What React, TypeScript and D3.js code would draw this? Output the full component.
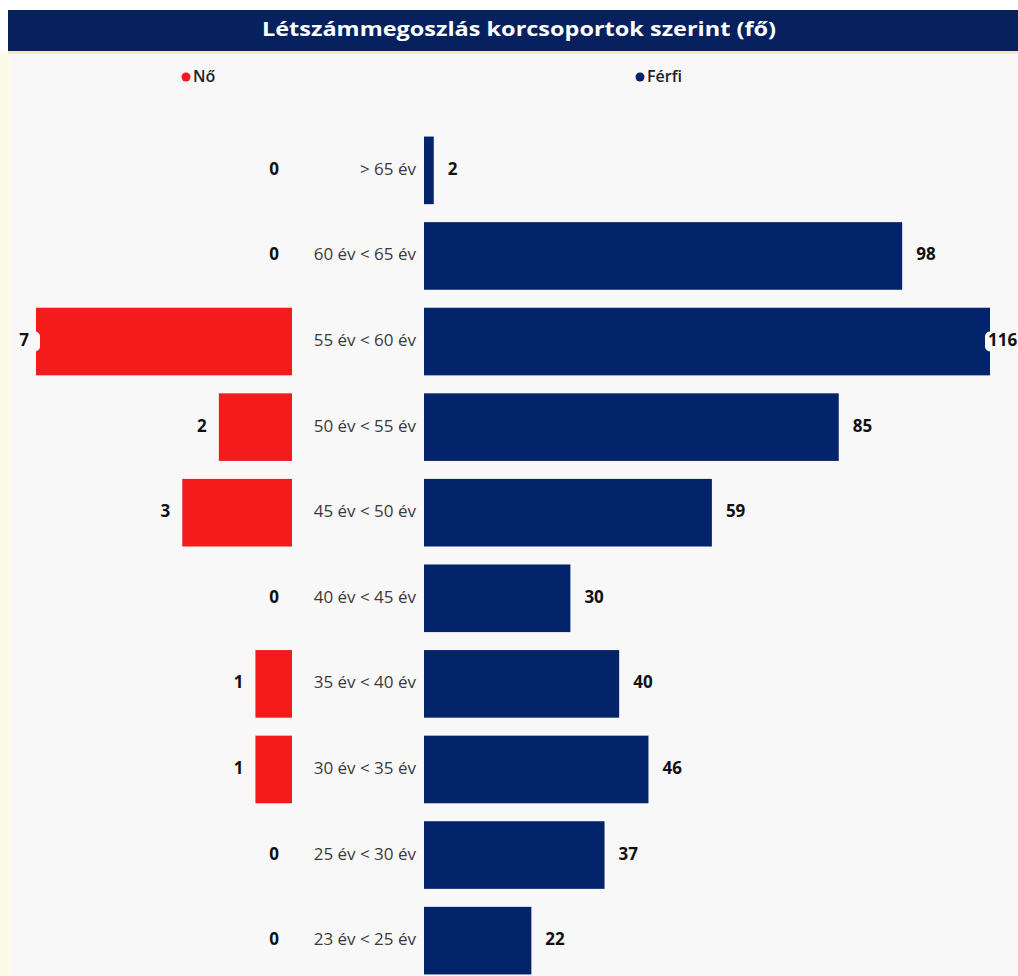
import * as d3 from 'd3';

const ageGroups = [
    '> 65 év',
    '60 év < 65 év',
    '55 év < 60 év',
    '50 év < 55 év',
    '45 év < 50 év',
    '40 év < 45 év',
    '35 év < 40 év',
    '30 év < 35 év',
    '25 év < 30 év',
    '23 év < 25 év',
];
const femaleCounts = [0, 0, 7, 2, 3, 0, 1, 1, 0, 0];
const maleCounts = [2, 98, 116, 85, 59, 30, 40, 46, 37, 22];

const width = 1018;
const height = 976;
const red = '#f31b1b';
const navy = '#03236a';
const bg = '#f8f8f8';
const font = '"Segoe UI", "Open Sans", "Noto Sans", sans-serif';

export default function App() {
    const y = d3
        .scaleBand<string>()
        .domain(ageGroups)
        .range([128, 983])
        .paddingInner(0.21)
        .paddingOuter(0.1);

    const xFemale = d3.scaleLinear().domain([0, 7]).range([292, 36]);
    const xMale = d3.scaleLinear().domain([0, 116]).range([424, 990]);
    const fMax = d3.max(femaleCounts) ?? 0;
    const mMax = d3.max(maleCounts) ?? 0;

    return (
        <div style={{ position: 'absolute', left: 0, top: 0 }}>
            <svg width={width} height={height} style={{ display: 'block', fontFamily: font }}>
                <rect width={width} height={height} fill="#ffffff" />
                <rect x={0} y={52} width={width} height={height - 52} fill={bg} />
                <rect x={0} y={52} width={10} height={height - 52} fill="#fdfae8" />
                <rect x={8} y={10} width={width - 8} height={41} fill="#07205e" />
                <rect x={8} y={51} width={width - 8} height={3} fill="#f1ecb8" />
                <text
                    x={519}
                    y={31}
                    fill="#fff"
                    fontSize={20}
                    fontWeight="bold"
                    textAnchor="middle"
                    dominantBaseline="middle"
                    textLength={514}
                    lengthAdjust="spacingAndGlyphs"
                >
                    Létszámmegoszlás korcsoportok szerint (fő)
                </text>

                {/* legend */}
                <circle cx={186} cy={77} r={4.5} fill={red} />
                <text x={193} y={78} fontSize={16} fontWeight={600} fill="#222" dominantBaseline="middle">
                    Nő
                </text>
                <circle cx={640} cy={77} r={4.5} fill={navy} />
                <text x={647} y={78} fontSize={16} fontWeight={600} fill="#222" dominantBaseline="middle">
                    Férfi
                </text>

                {ageGroups.map((g, i) => {
                    const top = y(g) ?? 0;
                    const cy = top + y.bandwidth() / 2;
                    const f = femaleCounts[i];
                    const m = maleCounts[i];
                    const fLeft = xFemale(f);
                    const mRight = xMale(m);
                    const fIsMax = f === fMax;
                    const mIsMax = m === mMax;
                    return (
                        <g key={g}>
                            {f > 0 && (
                                <rect
                                    x={fLeft}
                                    y={top}
                                    width={xFemale(0) - fLeft}
                                    height={y.bandwidth()}
                                    fill={red}
                                />
                            )}
                            {fIsMax && (
                                <rect x={fLeft - 24} y={cy - 10} width={28} height={20} rx={5} fill={bg} />
                            )}
                            <text
                                x={f > 0 ? fLeft - (fIsMax ? 7 : 12) : xFemale(0) - 13}
                                y={cy}
                                fontSize={17}
                                fontWeight="bold"
                                fill="#111"
                                textAnchor="end"
                                dominantBaseline="middle"
                            >
                                {f}
                            </text>
                            <text
                                x={416}
                                y={cy}
                                fontSize={17}
                                fill="#3a3a3a"
                                textAnchor="end"
                                dominantBaseline="middle"
                            >
                                {g}
                            </text>
                            <rect
                                x={xMale(0)}
                                y={top}
                                width={mRight - xMale(0)}
                                height={y.bandwidth()}
                                fill={navy}
                            />
                            {mIsMax && (
                                <rect x={mRight - 5} y={cy - 10} width={40} height={20} rx={5} fill={bg} />
                            )}
                            <text
                                x={mIsMax ? mRight - 2 : mRight + 14}
                                y={cy}
                                fontSize={17}
                                fontWeight="bold"
                                fill="#111"
                                dominantBaseline="middle"
                            >
                                {m}
                            </text>
                        </g>
                    );
                })}
            </svg>
        </div>
    );
}
